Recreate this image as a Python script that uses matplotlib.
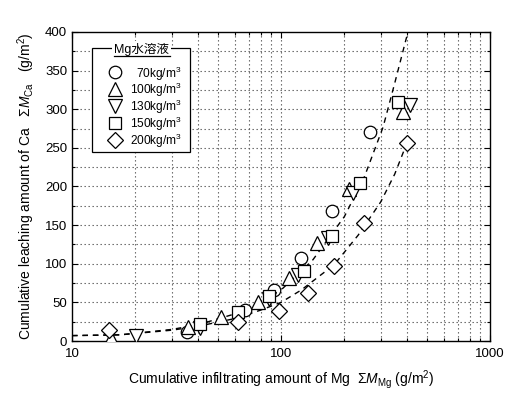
import matplotlib
matplotlib.use("Agg")
import matplotlib.pyplot as plt
from matplotlib.ticker import FixedLocator, FixedFormatter, MultipleLocator, NullFormatter
from matplotlib.patches import Rectangle

plt.rcParams['font.family'] = ['Liberation Sans', 'Noto Sans CJK JP', 'DejaVu Sans']
plt.rcParams['mathtext.fontset'] = 'custom'
plt.rcParams['mathtext.rm'] = 'Liberation Sans'
plt.rcParams['mathtext.it'] = 'Liberation Sans:italic'
plt.rcParams['mathtext.bf'] = 'Liberation Sans:bold'

# Cumulative Mg infiltrated (g/m2) vs cumulative Ca leached (g/m2)
mg70_x = [35.5, 67, 93, 124, 175, 268]
mg70_y = [12, 40, 66, 107, 168, 270]

mg100_x = [15.3, 35.8, 51.5, 77.3, 109, 148, 211, 385]
mg100_y = [4, 18, 31, 51, 81, 127, 197, 296]

mg130_x = [20.3, 40.9, 88, 121, 168, 220, 414]
mg130_y = [6, 17, 55, 86, 133, 192, 306]

mg150_x = [40.9, 62, 88, 129, 176, 238, 364]
mg150_y = [22, 37, 58, 90, 136, 204, 310]

mg200_x = [15.1, 62, 98, 134, 180, 249, 399]
mg200_y = [14, 24, 39, 62, 97, 153, 256]

# trend curves
upper_x = [10, 17, 30, 40, 60, 80, 100, 142, 201, 251, 308, 351, 396, 410]
upper_y = [7, 8, 15, 21, 35, 50, 66, 105, 161, 213, 277, 335, 390, 405]
lower_x = [10, 17, 30, 40, 60, 80, 100, 125, 180, 234, 300, 350, 400]
lower_y = [7, 8, 14, 19, 29, 40, 50, 66, 99, 137, 180, 216, 256]

legend_labels = ['70kg/m$^3$', '100kg/m$^3$', '130kg/m$^3$', '150kg/m$^3$', '200kg/m$^3$']
legend_title = 'Mg水溶液'

series = [
    (mg70_x, mg70_y, 'o', 9),
    (mg100_x, mg100_y, '^', 10.5),
    (mg130_x, mg130_y, 'v', 10.5),
    (mg150_x, mg150_y, 's', 8.5),
    (mg200_x, mg200_y, 'D', 8.5),
]

fig = plt.figure(figsize=(5.05, 3.94), dpi=100)
ax = fig.add_axes([0.1426, 0.1345, 0.8277, 0.7843])

ax.set_xscale('log')
ax.set_xlim(10, 1000)
ax.set_ylim(0, 400)

# dotted grid at every minor tick
minor_x = [v * d for d in (10, 100) for v in range(2, 10)]
grid_kw = dict(color='0.35', lw=0.8, ls=(0, (1.2, 2.4)), zorder=0)
for xv in minor_x + [100]:
    ax.axvline(xv, **grid_kw)
for yv in range(25, 400, 25):
    ax.axhline(yv, **grid_kw)

ax.plot(upper_x, upper_y, color='black', lw=1.0, dashes=(4, 3.5), zorder=2)
ax.plot(lower_x, lower_y, color='black', lw=1.0, dashes=(4, 3.5), zorder=2)

for i, (xs, ys, m, ms) in enumerate(series):
    ax.plot(xs, ys, ls='none', marker=m, ms=ms, mfc='white', mec='black',
            mew=0.9, zorder=3 + i)

# ticks
ax.xaxis.set_major_locator(FixedLocator([10, 100, 1000]))
ax.xaxis.set_major_formatter(FixedFormatter(['10', '100', '1000']))
ax.xaxis.set_minor_locator(FixedLocator(minor_x))
ax.xaxis.set_minor_formatter(NullFormatter())
ax.yaxis.set_major_locator(MultipleLocator(50))
ax.yaxis.set_minor_locator(MultipleLocator(25))
ax.tick_params(which='both', direction='in', top=True, right=True,
               labelsize=9.5, width=0.8)
ax.tick_params(which='major', length=4)
ax.tick_params(which='minor', length=2.5)
ax.tick_params(axis='x', pad=5)
for s in ax.spines.values():
    s.set_linewidth(1.0)

ax.set_xlabel(r'Cumulative infiltrating amount of Mg  $\Sigma\mathit{M}_{\mathrm{Mg}}$ (g/m$^2$)',
              fontsize=10, labelpad=6)
ax.set_ylabel(r'Cumulative leaching amount of Ca   $\Sigma\mathit{M}_{\mathrm{Ca}}$   (g/m$^2$)',
              fontsize=10, labelpad=6)

# legend box drawn in axes coordinates
box = Rectangle((0.048, 0.612), 0.234, 0.336, transform=ax.transAxes,
                facecolor='white', edgecolor='black', lw=0.9, zorder=10)
ax.add_patch(box)
ax.text(0.167, 0.942, legend_title, transform=ax.transAxes, ha='center',
        va='center', fontsize=9, zorder=12,
        bbox=dict(facecolor='white', edgecolor='none', pad=1.5))
ax.plot([0.1, 0.234], [0.922, 0.922], transform=ax.transAxes, color='black',
        lw=0.9, zorder=13, clip_on=False)
row_y = [0.870, 0.816, 0.761, 0.707, 0.651]
for (xs, ys, m, ms), lab, ry in zip(series, legend_labels, row_y):
    ax.plot([0.103], [ry], transform=ax.transAxes, ls='none', marker=m, ms=ms,
            mfc='white', mec='black', mew=0.9, zorder=11, clip_on=False)
    ax.text(0.262, ry - 0.004, lab, transform=ax.transAxes, ha='right', va='center',
            fontsize=8.6, zorder=11)

fig.savefig('out.png', dpi=100)
